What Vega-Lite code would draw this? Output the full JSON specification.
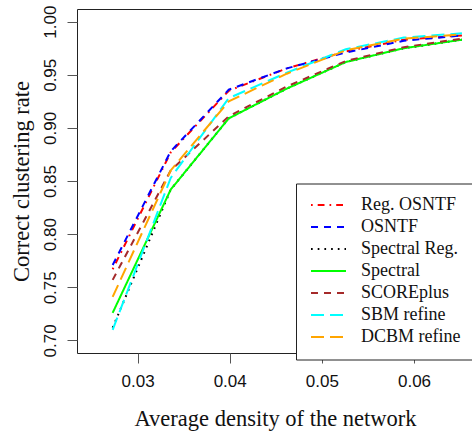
{
  "$schema": "https://vega.github.io/schema/vega-lite/v6.json",
  "width": 396,
  "height": 344,
  "autosize": {"type": "none"},
  "padding": {"left": 77, "top": 9, "right": 0, "bottom": 83},
  "background": "white",
  "data": {
    "values": [
      {"method": "Reg. OSNTF", "density": 0.0273, "rate": 0.767},
      {"method": "Reg. OSNTF", "density": 0.0336, "rate": 0.877},
      {"method": "Reg. OSNTF", "density": 0.0399, "rate": 0.935},
      {"method": "Reg. OSNTF", "density": 0.0462, "rate": 0.956},
      {"method": "Reg. OSNTF", "density": 0.0526, "rate": 0.972},
      {"method": "Reg. OSNTF", "density": 0.0589, "rate": 0.983},
      {"method": "Reg. OSNTF", "density": 0.0652, "rate": 0.987},
      {"method": "OSNTF", "density": 0.0273, "rate": 0.771},
      {"method": "OSNTF", "density": 0.0336, "rate": 0.878},
      {"method": "OSNTF", "density": 0.0399, "rate": 0.936},
      {"method": "OSNTF", "density": 0.0462, "rate": 0.956},
      {"method": "OSNTF", "density": 0.0526, "rate": 0.971},
      {"method": "OSNTF", "density": 0.0589, "rate": 0.982},
      {"method": "OSNTF", "density": 0.0652, "rate": 0.987},
      {"method": "Spectral Reg.", "density": 0.0273, "rate": 0.712},
      {"method": "Spectral Reg.", "density": 0.0336, "rate": 0.842},
      {"method": "Spectral Reg.", "density": 0.0399, "rate": 0.909},
      {"method": "Spectral Reg.", "density": 0.0462, "rate": 0.937},
      {"method": "Spectral Reg.", "density": 0.0526, "rate": 0.962},
      {"method": "Spectral Reg.", "density": 0.0589, "rate": 0.975},
      {"method": "Spectral Reg.", "density": 0.0652, "rate": 0.983},
      {"method": "Spectral", "density": 0.0273, "rate": 0.726},
      {"method": "Spectral", "density": 0.0336, "rate": 0.842},
      {"method": "Spectral", "density": 0.0399, "rate": 0.909},
      {"method": "Spectral", "density": 0.0462, "rate": 0.937},
      {"method": "Spectral", "density": 0.0526, "rate": 0.962},
      {"method": "Spectral", "density": 0.0589, "rate": 0.975},
      {"method": "Spectral", "density": 0.0652, "rate": 0.983},
      {"method": "SCOREplus", "density": 0.0273, "rate": 0.757},
      {"method": "SCOREplus", "density": 0.0336, "rate": 0.860},
      {"method": "SCOREplus", "density": 0.0399, "rate": 0.911},
      {"method": "SCOREplus", "density": 0.0462, "rate": 0.939},
      {"method": "SCOREplus", "density": 0.0526, "rate": 0.963},
      {"method": "SCOREplus", "density": 0.0589, "rate": 0.976},
      {"method": "SCOREplus", "density": 0.0652, "rate": 0.984},
      {"method": "SBM refine", "density": 0.0273, "rate": 0.710},
      {"method": "SBM refine", "density": 0.0336, "rate": 0.853},
      {"method": "SBM refine", "density": 0.0399, "rate": 0.928},
      {"method": "SBM refine", "density": 0.0462, "rate": 0.952},
      {"method": "SBM refine", "density": 0.0526, "rate": 0.974},
      {"method": "SBM refine", "density": 0.0589, "rate": 0.985},
      {"method": "SBM refine", "density": 0.0652, "rate": 0.989},
      {"method": "DCBM refine", "density": 0.0273, "rate": 0.741},
      {"method": "DCBM refine", "density": 0.0336, "rate": 0.860},
      {"method": "DCBM refine", "density": 0.0399, "rate": 0.925},
      {"method": "DCBM refine", "density": 0.0462, "rate": 0.951},
      {"method": "DCBM refine", "density": 0.0526, "rate": 0.973},
      {"method": "DCBM refine", "density": 0.0589, "rate": 0.984},
      {"method": "DCBM refine", "density": 0.0652, "rate": 0.988}
    ]
  },
  "mark": {"type": "line", "strokeWidth": 2, "clip": true},
  "encoding": {
    "x": {
      "field": "density",
      "type": "quantitative",
      "scale": {"domain": [0.02343, 0.0664], "nice": false, "zero": false},
      "axis": {
        "title": "Average density of the network",
        "values": [0.03, 0.04, 0.05, 0.06],
        "format": ".2f",
        "labelPadding": 10,
        "titleY": 72,
        "titleBaseline": "alphabetic"
      }
    },
    "y": {
      "field": "rate",
      "type": "quantitative",
      "scale": {"domain": [0.6882, 1.0119], "nice": false, "zero": false},
      "axis": {
        "title": "Correct clustering rate",
        "values": [0.70, 0.75, 0.80, 0.85, 0.90, 0.95, 1.00],
        "format": ".2f",
        "labelAngle": -90,
        "labelAlign": "center",
        "labelBaseline": "alphabetic",
        "labelPadding": 12,
        "titleX": -49,
        "titleBaseline": "alphabetic",
        "titleAngle": -90
      }
    },
    "color": {
      "field": "method",
      "type": "nominal",
      "sort": null,
      "scale": {
        "domain": ["Reg. OSNTF", "OSNTF", "Spectral Reg.", "Spectral", "SCOREplus", "SBM refine", "DCBM refine"],
        "range": ["#FF0000", "#0000FF", "#000000", "#00FF00", "#A52A2A", "#00FFFF", "#FFA500"]
      },
      "legend": {"title": null}
    },
    "strokeDash": {
      "field": "method",
      "type": "nominal",
      "sort": null,
      "scale": {
        "domain": ["Reg. OSNTF", "OSNTF", "Spectral Reg.", "Spectral", "SCOREplus", "SBM refine", "DCBM refine"],
        "range": [[1.7, 5, 6.8, 5], [7, 6], [1.7, 5], [1, 0], [7, 6], [13, 6], [13, 6]]
      },
      "legend": {"title": null}
    }
  },
  "config": {
    "view": {"stroke": "#222", "strokeWidth": 1},
    "axis": {
      "domain": false,
      "grid": false,
      "ticks": true,
      "tickSize": 10,
      "tickColor": "#555",
      "tickWidth": 1,
      "labelFont": "Liberation Sans",
      "labelFontSize": 17,
      "labelColor": "#111",
      "titleFont": "Liberation Serif",
      "titleFontSize": 22.5,
      "titleFontWeight": "normal",
      "titleColor": "#111"
    },
    "legend": {
      "orient": "none",
      "legendX": 219,
      "legendY": 174.5,
      "padding": 11,
      "symbolOffset": 3,
      "clipHeight": 21.2,
      "fillColor": "white",
      "strokeColor": "#222",
      "symbolType": "stroke",
      "symbolSize": 1225,
      "symbolStrokeWidth": 2,
      "labelFont": "Liberation Serif",
      "labelFontSize": 18,
      "labelColor": "#111",
      "labelOffset": 14,
      "rowPadding": 0,
      "labelLimit": 200
    }
  }
}
